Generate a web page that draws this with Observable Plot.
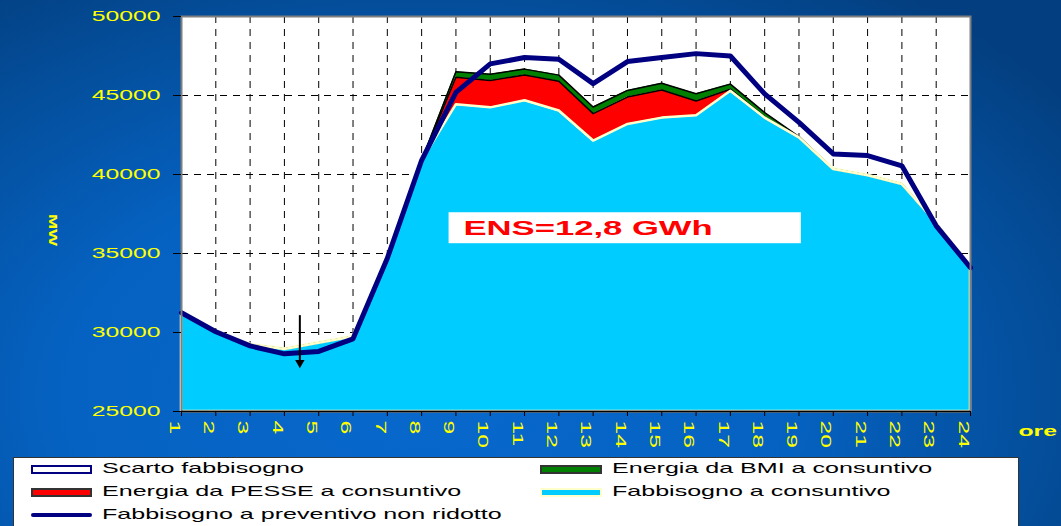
<!DOCTYPE html>
<html>
<head>
<meta charset="utf-8">
<script src="https://cdn.jsdelivr.net/npm/d3@7"></script>
<script src="https://cdn.jsdelivr.net/npm/@observablehq/plot@0.6"></script>
<style>
html, body { margin: 0; padding: 0; }
body {
  width: 1061px; height: 526px; overflow: hidden; position: relative;
  font-family: "Liberation Sans", Arial, sans-serif;
  background: radial-gradient(ellipse 75% 95% at 40% 75%, #0868cc 0%, #0562c2 45%, #04509f 75%, #033f80 100%);
}
#chart { position: absolute; left: 0; top: 0; }
#legend {
  position: absolute; left: 13px; top: 457px; width: 1004px; height: 90px;
  background: #ffffff; border: 1px solid #333;
}
.item { position: absolute; height: 20px; }
.sw { position: absolute; box-sizing: border-box; }
.lab { position: absolute; font-size: 15px; color: #000; white-space: nowrap; transform: scaleX(1.67); transform-origin: 0 50%; line-height: 20px; }
</style>
</head>
<body>
<div id="chart"></div>
<div id="legend"></div>
<script>
// ---- data ----
const hours = [1,2,3,4,5,6,7,8,9,10,11,12,13,14,15,16,17,18,19,20,21,22,23,24];
const preventivo = [31250,30050,29150,28650,28800,29600,34700,40900,45200,47000,47400,47300,45750,47150,47400,47650,47500,45100,43300,41300,41200,40550,36750,34100];
const consuntivo = [31300,30100,29250,28950,29350,29750,34700,40900,44450,44250,44700,44050,42150,43200,43600,43750,45300,43600,42350,40350,39950,39400,36950,34100];
const pesse = [0,0,0,0,0,0,0,0,1700,1700,1600,1850,1700,1700,1750,900,100,50,0,0,0,0,0,0];
const bmi   = [0,0,0,0,0,0,0,0,350,400,370,390,420,420,420,460,320,270,50,0,0,0,0,0];
const yTicks = [25000,30000,35000,40000,45000,50000];
const legendLabels = ["Scarto fabbisogno","Energia da BMI a consuntivo","Energia da PESSE a consuntivo","Fabbisogno a consuntivo","Fabbisogno a preventivo non ridotto"];
const ensText = "ENS=12,8 GWh";
const xTitle = "ore";
const yTitle = "MW";

// annotations (in data units)
const ensBox = [{x1: 8.8, x2: 19.07, y1: 35620, y2: 37580}];
const ensLabel = [{x: 9.22, y: 36570, text: ensText}];
const arrowAnn = [{x: 4.45, y1: 31100, y2: 28150}];

// ---- build table ----
const table = hours.map((h, i) => ({
  hour: h,
  base: yTicks[0],
  prev: preventivo[i],
  cons: consuntivo[i],
  red: consuntivo[i] + pesse[i],
  tot: consuntivo[i] + pesse[i] + bmi[i]
}));

const chart = Plot.plot({
  width: 1061, height: 450,
  marginLeft: 181, marginRight: 91, marginTop: 16, marginBottom: 39,
  style: {background: "transparent", fontFamily: "Liberation Sans, Arial, sans-serif", fontSize: "15px", color: "#ffff00", overflow: "visible"},
  x: {domain: [1, 24]},
  y: {domain: [yTicks[0], yTicks[yTicks.length - 1]]},
  marks: [
    Plot.frame({fill: "white", stroke: null}),
    Plot.gridX(hours.slice(1, -1), {stroke: "#000", strokeOpacity: 1, strokeWidth: 1, strokeDasharray: "7,6"}),
    Plot.gridY(yTicks.slice(1, -1), {stroke: "#000", strokeOpacity: 1, strokeWidth: 1, strokeDasharray: "7,6"}),
    Plot.areaY(table, {x: "hour", y1: "base", y2: "cons", fill: "#00ccff", stroke: "#ffffcc", strokeWidth: 2.5}),
    Plot.areaY(table, {x: "hour", y1: "cons", y2: "red", fill: "#ff0000"}),
    Plot.areaY(table, {x: "hour", y1: "red", y2: "tot", fill: "#008000"}),
    Plot.lineY(table, {x: "hour", y: "red", stroke: "#000", strokeWidth: 1.5}),
    Plot.lineY(table, {x: "hour", y: "tot", stroke: "#000", strokeWidth: 1.5}),
    Plot.lineY(table, {x: "hour", y: "cons", stroke: "#ffffcc", strokeWidth: 2.5}),
    Plot.lineY(table, {x: "hour", y: "prev", stroke: "#000080", strokeWidth: 5}),
    Plot.frame({stroke: "#7f7f7f", strokeWidth: 2, fill: null}),
    Plot.ruleY([yTicks[0]], {stroke: "#000", strokeWidth: 1.5}),
    Plot.rect(ensBox, {x1: "x1", x2: "x2", y1: "y1", y2: "y2", fill: "white"}),
    Plot.text(ensLabel, {x: "x", y: "y", text: "text", fill: "#ff0000", fontWeight: "bold", fontSize: 21, textAnchor: "start"}),
    Plot.link(arrowAnn, {x1: "x", x2: "x", y1: "y1", y2: "y2", stroke: "#000", strokeWidth: 2}),
    Plot.dot(arrowAnn, {x: "x", y: "y2", symbol: "triangle", rotate: 180, fill: "#000", r: 3.5, dy: 1}),
    Plot.axisY({ticks: yTicks, tickSize: 8, tickPadding: 13, tickFormat: d => String(d), stroke: "#000", fill: "#ffff00", label: null}),
    Plot.axisX({ticks: hours, tickSize: 5, tickFormat: () => "", stroke: "#000", label: null}),
    Plot.axisX({ticks: hours, tickSize: 0, tickPadding: 9, tickRotate: 90, dx: -7, tickFormat: d => String(d), fill: "#ffff00", label: null}),
    Plot.text([xTitle], {frameAnchor: "bottom-right", dx: 48, dy: 24, text: d => d, fill: "#ffff00", fontWeight: "bold", fontSize: 15, textAnchor: "start"}),
    Plot.text([yTitle], {frameAnchor: "left", dx: -129, rotate: 90, text: d => d, fill: "#ffff00", fontWeight: "bold", fontSize: 11})
  ]
});

// horizontal stretch of all text, as in the reference
chart.querySelectorAll("text").forEach(t => {
  const xa = t.getAttribute("x");
  const x = xa && !isNaN(+xa) ? +xa : 0;
  if (xa && !isNaN(+xa)) t.removeAttribute("x");
  const tr = t.getAttribute("transform") || "";
  t.setAttribute("transform", `${tr} translate(${x},0) scale(1.65,1)`);
});
document.getElementById("chart").appendChild(chart);

// ---- legend ----
const legend = document.getElementById("legend");
const items = [
  {label: legendLabels[0], x: 17, y: 0, sw: {w: 61, h: 9, bg: "#fff", border: "2px solid #000080"}},
  {label: legendLabels[1], x: 526, y: 0, sw: {w: 62, h: 9, bg: "#008000", border: "2px solid #333"}},
  {label: legendLabels[2], x: 17, y: 23, sw: {w: 61, h: 9, bg: "#ff0000", border: "2px solid #333"}},
  {label: legendLabels[3], x: 526, y: 23, sw: {w: 62, h: 9, bg: "#00ccff", border: "2px solid #ffffcc"}},
  {label: legendLabels[4], x: 17, y: 46, sw: {w: 61, h: 4, bg: "#000080", border: "none", radius: "2px"}}
];
items.forEach(it => {
  const d = document.createElement("div");
  d.className = "item";
  d.style.left = it.x + "px";
  d.style.top = it.y + "px";
  d.style.width = "480px";
  const s = document.createElement("div");
  s.className = "sw";
  s.style.left = "0px";
  s.style.top = (10 - it.sw.h / 2 + 1) + "px";
  s.style.width = it.sw.w + "px";
  s.style.height = it.sw.h + "px";
  s.style.background = it.sw.bg;
  s.style.border = it.sw.border;
  if (it.sw.radius) s.style.borderRadius = it.sw.radius;
  d.appendChild(s);
  const l = document.createElement("div");
  l.className = "lab";
  l.style.left = (it.sw.w + 10) + "px";
  l.style.top = "0px";
  l.textContent = it.label;
  d.appendChild(l);
  legend.appendChild(d);
});
</script>
</body>
</html>
